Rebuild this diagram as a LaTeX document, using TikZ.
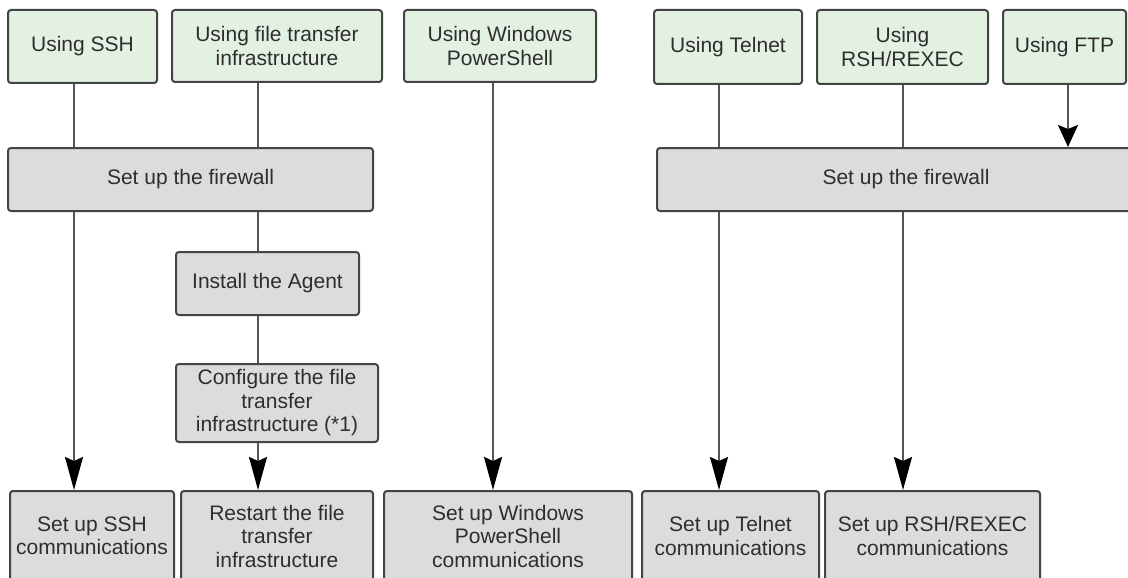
\documentclass[tikz,border=0pt]{standalone}
\usepackage{fontspec}
\setmainfont{Liberation Sans}
\usetikzlibrary{arrows.meta}
\definecolor{boxgreen}{HTML}{E3F1E3}
\definecolor{boxgray}{HTML}{DCDCDC}
\definecolor{bordercol}{HTML}{444444}
\definecolor{linecol}{HTML}{555555}
\definecolor{txtcol}{HTML}{2E2E2E}
\tikzset{
  box/.style={draw=bordercol, line width=2pt, rounded corners=3pt, inner sep=0pt,
    align=center, text=txtcol, font=\fontsize{21}{23.5}\selectfont},
  greenbox/.style={box, fill=boxgreen},
  graybox/.style={box, fill=boxgray},
  conn/.style={draw=linecol, line width=2pt},
  arr/.style={conn, -{Stealth[length=33pt,width=18pt,inset=4pt,black]}},
  sarr/.style={conn, -{Stealth[length=22pt,width=20pt,inset=4pt,black]}},
}
\begin{document}
\begin{tikzpicture}[x=1pt,y=-1pt]
\useasboundingbox (0,0) rectangle (1128,578);
\clip (0,0) rectangle (1128,578);
\fill[white] (0,0) rectangle (1128,578);
% top row
\node[greenbox, minimum width=149pt, minimum height=73pt] (ssh) at (82.5,46.5) {Using SSH};
\node[greenbox, minimum width=210pt, minimum height=72pt] (ft) at (277,46) {Using file transfer\\infrastructure};
\node[greenbox, minimum width=192pt, minimum height=72pt] (ps) at (500,46) {Using Windows\\PowerShell};
\node[greenbox, minimum width=148pt, minimum height=74pt] (tel) at (728,47) {Using Telnet};
\node[greenbox, minimum width=171pt, minimum height=74pt] (rsh) at (902.5,47) {Using\\RSH/REXEC};
\node[greenbox, minimum width=123pt, minimum height=74pt] (ftp) at (1064.5,47) {Using FTP};
% firewalls
\node[graybox, minimum width=365pt, minimum height=63pt] (fwl) at (190.5,179.5) {Set up the firewall};
\node[graybox, minimum width=498pt, minimum height=63pt] (fwr) at (906,179.5) {Set up the firewall};
% middle
\node[graybox, minimum width=183pt, minimum height=63pt] (agent) at (267.5,283.5) {Install the Agent};
\node[graybox, minimum width=202pt, minimum height=78pt] (cfg) at (277,403) {Configure the file\\transfer\\infrastructure (*1)};
% bottom row
\node[graybox, minimum width=164pt, minimum height=90pt] (sshc) at (92,536) {Set up SSH\\communications};
\node[graybox, minimum width=192pt, minimum height=90pt] (rst) at (277,536) {Restart the file\\transfer\\infrastructure};
\node[graybox, minimum width=248pt, minimum height=90pt] (psc) at (508,536) {Set up Windows\\PowerShell\\communications};
\node[graybox, minimum width=177pt, minimum height=90pt] (telc) at (730.5,536) {Set up Telnet\\communications};
\node[graybox, minimum width=215pt, minimum height=90pt] (rshc) at (932.5,536) {Set up RSH/REXEC\\communications};
% line x positions
\coordinate (xssh) at (74,0);
\coordinate (xft) at (258,0);
\coordinate (xps) at (493,0);
\coordinate (xtel) at (719,0);
\coordinate (xrsh) at (903,0);
\coordinate (xftp) at (1068,0);
% connectors
\draw[conn] (ssh.south -| xssh) -- (fwl.north -| xssh);
\draw[arr] (fwl.south -| xssh) -- (sshc.north -| xssh);
\draw[conn] (ft.south -| xft) -- (fwl.north -| xft);
\draw[conn] (fwl.south -| xft) -- (agent.north -| xft);
\draw[conn] (agent.south -| xft) -- (cfg.north -| xft);
\draw[arr] (cfg.south -| xft) -- (rst.north -| xft);
\draw[arr] (ps.south -| xps) -- (psc.north -| xps);
\draw[conn] (tel.south -| xtel) -- (fwr.north -| xtel);
\draw[arr] (fwr.south -| xtel) -- (telc.north -| xtel);
\draw[conn] (rsh.south -| xrsh) -- (fwr.north -| xrsh);
\draw[arr] (fwr.south -| xrsh) -- (rshc.north -| xrsh);
\draw[sarr] (ftp.south -| xftp) -- (fwr.north -| xftp);
\end{tikzpicture}
\end{document}
